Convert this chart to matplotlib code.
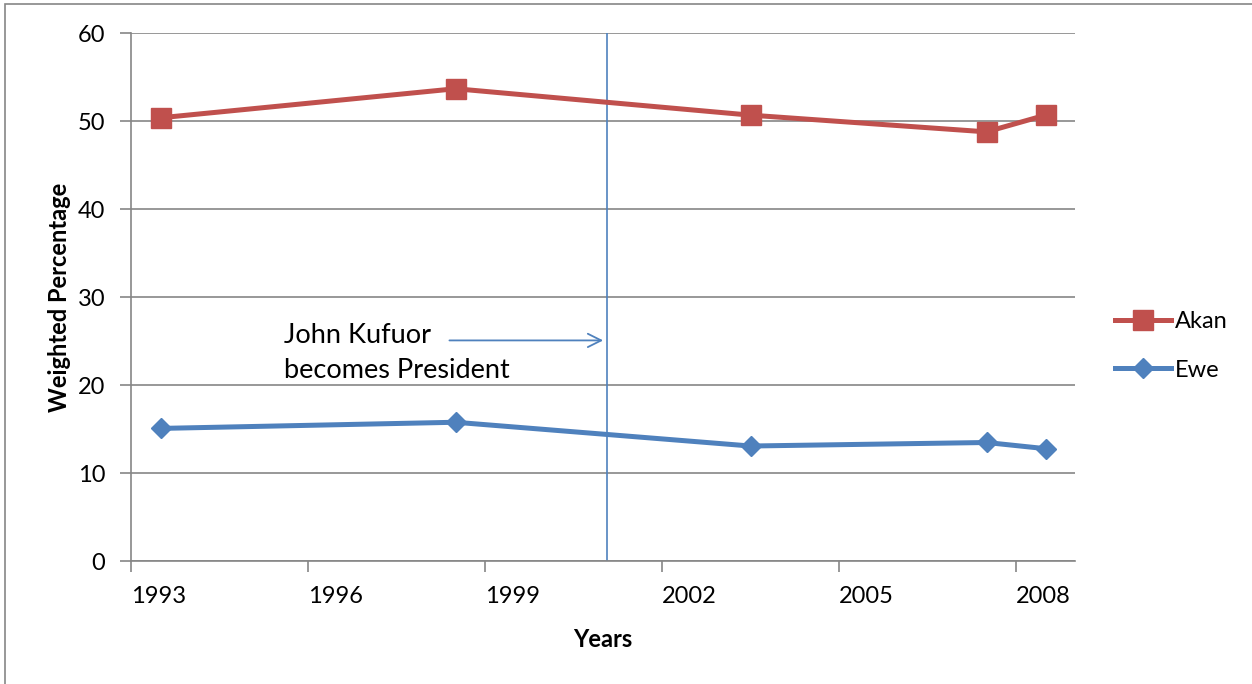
import matplotlib.pyplot as plt
from matplotlib.patches import Rectangle

years = [1993.5, 1998.5, 2003.5, 2007.5, 2008.5]
akan = [50.4, 53.7, 50.7, 48.8, 50.7]
ewe = [15.1, 15.8, 13.1, 13.5, 12.8]
xticks = [1993, 1996, 1999, 2002, 2005, 2008]
yticks = [0, 10, 20, 30, 40, 50, 60]
kufuor_year = 2001.07

RED = '#C0504D'
BLUE = '#4F81BD'
GRID = '#868686'

plt.rcParams['font.family'] = ['Lato', 'DejaVu Sans']

fig = plt.figure(figsize=(12.52, 6.84), dpi=100)
fig.patches.append(Rectangle((5 / 1252, -0.01), 1.1, 1 - 4 / 684 + 0.01,
                             transform=fig.transFigure, fill=False,
                             edgecolor=GRID, linewidth=1.2))

ax = fig.add_axes([131 / 1252, 1 - 561.3 / 684, (1075 - 131) / 1252, (561.3 - 33.3) / 684])

ax.plot(years, akan, color=RED, lw=3.6, marker='s', ms=14, label='Akan', zorder=3)
ax.plot(years, ewe, color=BLUE, lw=3.6, marker='D', ms=10, label='Ewe', zorder=3)
ax.axvline(kufuor_year, color=BLUE, lw=1.2, zorder=2)

# annotation: arrow pointing at the vertical line
ax.annotate('', xy=(kufuor_year - 0.02, 25.1), xytext=(1998.35, 25.1),
            arrowprops=dict(arrowstyle='->', color=BLUE, lw=1.3, mutation_scale=24))
ax.text(1995.6, 23.7, 'John Kufuor\nbecomes President', fontsize=19.5,
        ha='left', va='center', linespacing=1.5)

ax.set_xlim(1993, 2009)
ax.set_ylim(0, 60)
ax.set_xticks(xticks)
ax.set_yticks(yticks)
ax.tick_params(axis='both', direction='out', length=8, width=1.2, color=GRID,
               labelsize=17)
ax.tick_params(axis='x', pad=10)
ax.tick_params(axis='y', pad=10.5)
for lbl in ax.get_xticklabels():
    lbl.set_horizontalalignment('left')
ax.grid(axis='y', color=GRID, lw=1.2)
ax.set_axisbelow(True)
for side in ['top', 'right']:
    ax.spines[side].set_visible(False)
for side in ['left', 'bottom']:
    ax.spines[side].set_color(GRID)
    ax.spines[side].set_linewidth(1.2)

ax.set_xlabel('Years', fontsize=17, fontweight='bold', labelpad=15)
ax.set_ylabel('Weighted Percentage', fontsize=17, fontweight='bold', labelpad=5)

ax.legend(loc='center left', bbox_to_anchor=(1115 / 1252, 1 - 346 / 684),
          bbox_transform=fig.transFigure, frameon=False, fontsize=17,
          handlelength=2.37, handletextpad=0.17, labelspacing=1.15,
          borderpad=0, borderaxespad=0)

fig.savefig('out.png', dpi=100)
